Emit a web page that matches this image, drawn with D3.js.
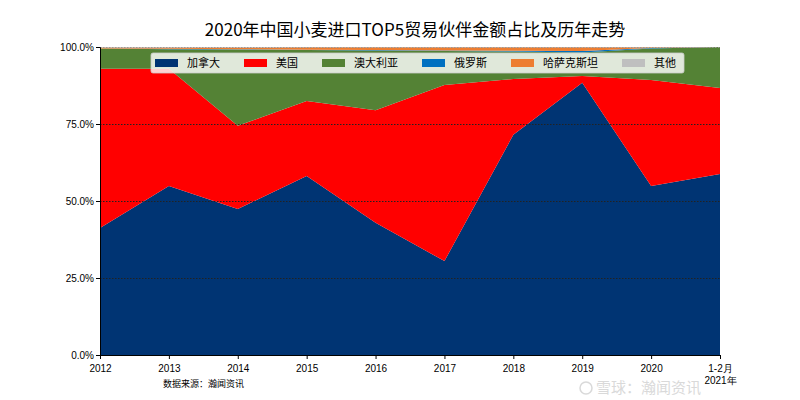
<!DOCTYPE html>
<html>
<head>
<meta charset="utf-8">
<script src="https://cdn.jsdelivr.net/npm/d3@7/dist/d3.min.js"></script>
<style>
  html, body { margin: 0; padding: 0; background: #fff; }
  svg { display: block; font-family: "Noto Sans CJK SC", "DejaVu Sans", sans-serif; }
</style>
</head>
<body>
<svg id="chart" width="800" height="400"></svg>
<script>
// ---- data (percent shares) ----
const years = ["2012", "2013", "2014", "2015", "2016", "2017", "2018", "2019", "2020", "1-2月\n2021年"];
const seriesNames = ["加拿大", "美国", "澳大利亚", "俄罗斯", "哈萨克斯坦", "其他"];
const canada     = [41.2, 54.9, 47.4, 58.1, 42.9, 30.5, 71.5, 88.4, 54.9, 58.8];
const usa        = [51.7, 38.0, 27.0, 24.4, 36.6, 57.2, 18.1,  2.2, 34.4, 27.9];
const australia  = [ 6.6,  6.4, 24.8, 16.5, 19.4, 11.0,  8.9,  7.6, 10.2, 13.3];
const russia     = [ 0.0,  0.1,  0.1,  0.1,  0.1,  0.2,  0.3,  0.5,  0.2,  0.0];
const kazakhstan = [ 0.3,  0.4,  0.5,  0.8,  0.9,  1.0,  1.1,  1.2,  0.2,  0.0];
const others     = [ 0.2,  0.2,  0.2,  0.1,  0.1,  0.1,  0.1,  0.1,  0.1,  0.0];
const yTicks = [0, 25, 50, 75, 100];
const colors = ["#003473", "#ff0000", "#548235", "#0070c0", "#ed7d31", "#bfbfbf"];
const title = "2020年中国小麦进口TOP5贸易伙伴金额占比及历年走势";
const sourceNote = "数据来源：瀚闻资讯";
const watermark = "雪球：瀚闻资讯";

const seriesValues = [canada, usa, australia, russia, kazakhstan, others];
const table = years.map((y, i) => {
  const row = { year: y, idx: i };
  seriesNames.forEach((n, k) => row[n] = seriesValues[k][i]);
  return row;
});

const svg = d3.select("#chart");
const margin = { left: 100, right: 80, top: 47, bottom: 45 };
const W = 800, H = 400;
const x = d3.scalePoint().domain(d3.range(years.length)).range([margin.left, W - margin.right]);
const y = d3.scaleLinear().domain([0, 100]).range([H - margin.bottom, margin.top]);

const stack = d3.stack().keys(seriesNames).offset(d3.stackOffsetExpand);
const layers = stack(table);
const area = d3.area()
  .x(d => x(d.data.idx))
  .y0(d => y(d[0] * 100))
  .y1(d => y(d[1] * 100));

svg.append("g").selectAll("path").data(layers).join("path")
  .attr("d", area)
  .attr("fill", (d, i) => colors[i]);

// grid lines
svg.append("g").selectAll("line").data(yTicks.filter(t => t > 0)).join("line")
  .attr("x1", margin.left).attr("x2", W - margin.right)
  .attr("y1", d => y(d) + 0.5).attr("y2", d => y(d) + 0.5)
  .attr("stroke", d => d === 100 ? "#999" : "#222")
  .attr("stroke-width", 1)
  .attr("stroke-dasharray", "1.5,1.5");

// y axis
const yAxis = d3.axisLeft(y).tickValues(yTicks).tickFormat(d => d.toFixed(1) + "%").tickSize(4).tickPadding(2);
const gy = svg.append("g").attr("transform", `translate(${margin.left},0)`).call(yAxis);
gy.select(".domain").attr("stroke", "#000");
gy.selectAll("text").attr("font-size", 10).attr("fill", "#000");

// x axis
const xAxis = d3.axisBottom(x).tickFormat(() => "").tickSize(4).tickSizeOuter(0);
const gx = svg.append("g").attr("transform", `translate(0,${H - margin.bottom})`).call(xAxis);
gx.select(".domain").attr("stroke", "#000");
gx.selectAll(".tick").each(function(d) {
  const lines = years[d].split("\n");
  const t = d3.select(this).append("text").attr("fill", "#000").attr("font-size", 10)
    .attr("text-anchor", "middle");
  lines.forEach((ln, k) => t.append("tspan").attr("x", 0).attr("y", 17 + k * 12).text(ln));
});

// title
svg.append("text").attr("x", 415).attr("y", 36).attr("text-anchor", "middle")
  .attr("font-size", 17).attr("fill", "#000").text(title);

// source note
svg.append("text").attr("x", 163).attr("y", 387).attr("font-size", 9).attr("fill", "#000").text(sourceNote);

// legend
const lg = svg.append("g");
const lgBox = lg.append("rect").attr("x", 151).attr("y", 53).attr("height", 20).attr("rx", 2)
  .attr("fill", "#fff").attr("fill-opacity", 0.82).attr("stroke", "#ccc").attr("stroke-width", 0.8);
let cx = 155;
seriesNames.forEach((n, i) => {
  lg.append("rect").attr("x", cx).attr("y", 59).attr("width", 23).attr("height", 8).attr("fill", colors[i]);
  const t = lg.append("text").attr("x", cx + 32).attr("y", 67).attr("font-size", 11).attr("fill", "#000").text(n);
  cx += 32 + t.node().getComputedTextLength() + 24;
});
lgBox.attr("width", cx - 24 + 8 - 151);

// watermark (kept clear of the tick labels)
const wm = svg.append("g").attr("opacity", 0.55);
wm.append("circle").attr("cx", 586).attr("cy", 388).attr("r", 6).attr("fill", "none").attr("stroke", "#bbb").attr("stroke-width", 1.5);
wm.append("text").attr("x", 596).attr("y", 393).attr("font-size", 15).attr("fill", "#bbb").text(watermark);
</script>
</body>
</html>
